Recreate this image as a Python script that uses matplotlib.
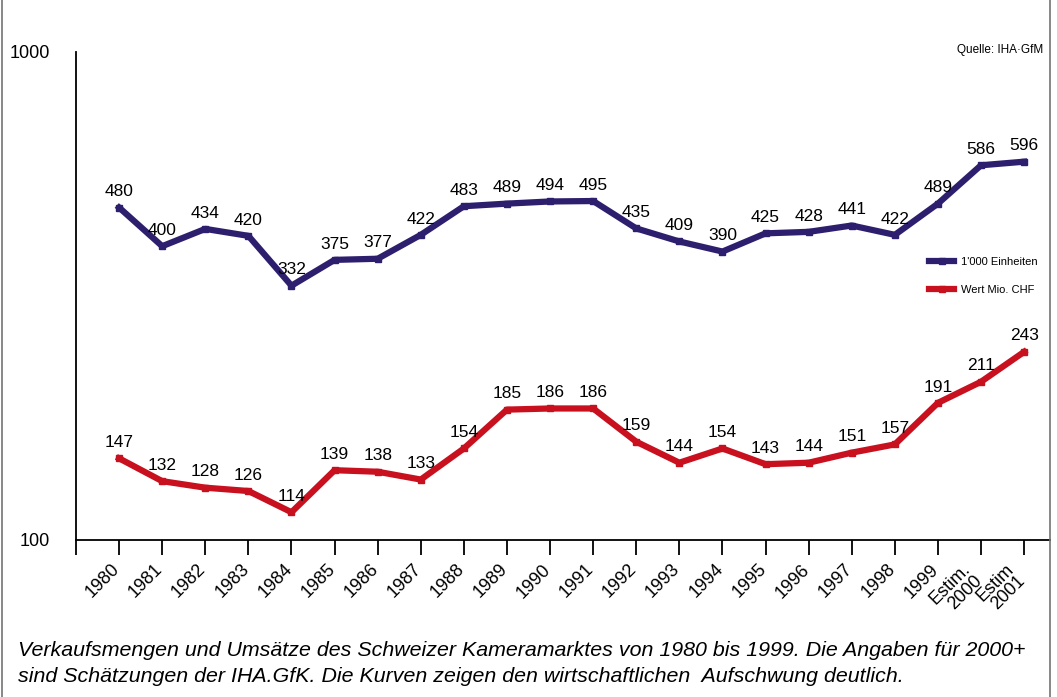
import numpy as np
import matplotlib
matplotlib.use("Agg")
import matplotlib.pyplot as plt
import matplotlib.transforms as mtransforms
from matplotlib.lines import Line2D

plt.rcParams['font.family'] = ['Liberation Sans', 'DejaVu Sans']

years = ["1980", "1981", "1982", "1983", "1984", "1985", "1986", "1987", "1988",
         "1989", "1990", "1991", "1992", "1993", "1994", "1995", "1996", "1997",
         "1998", "1999", "Estim.\n2000", "Estim\n2001"]
einheiten = [480, 400, 434, 420, 332, 375, 377, 422, 483, 489, 494, 495,
             435, 409, 390, 425, 428, 441, 422, 489, 586, 596]
wert = [147, 132, 128, 126, 114, 139, 138, 133, 154, 185, 186, 186,
        159, 144, 154, 143, 144, 151, 157, 191, 211, 243]

BLUE = "#2e1f6e"
RED = "#c8101e"

fig = plt.figure(figsize=(10.57, 6.97), dpi=100)
ax = fig.add_axes([76/1057, 1-540/697, (1050-76)/1057, (540-52)/697])

x = np.arange(len(years))
ax.plot(x, einheiten, color=BLUE, lw=4.5, marker="s", ms=4, solid_joinstyle="round",
        label="1'000 Einheiten")
ax.plot(x, wert, color=RED, lw=4.5, marker="s", ms=4, solid_joinstyle="round",
        label="Wert Mio. CHF")

for serie in (einheiten, wert):
    for xi, v in zip(x, serie):
        ax.annotate(str(v), (xi, v), xytext=(0, 6), textcoords="offset points",
                    ha="center", va="bottom", fontsize=12.5)

ax.set_yscale("log")
ax.set_ylim(100, 1000)
ax.set_xlim(-1, 21.6)
ax.set_yticks([100, 1000])
ax.set_yticklabels(["100", "1000"])
ax.yaxis.set_minor_locator(matplotlib.ticker.NullLocator())
ax.tick_params(axis="y", length=0, pad=19, labelsize=13)

ax.set_xticks(np.arange(-1, len(years)))
ax.set_xticklabels([""] + years, rotation=45, ha="right", fontsize=13,
                   linespacing=0.9)
ax.tick_params(axis="x", length=11, width=1.3, direction="out", pad=4)
shift = mtransforms.ScaledTranslation(4/100, 0, fig.dpi_scale_trans)
for lab in ax.get_xticklabels():
    lab.set_transform(lab.get_transform() + shift)

for s in ["top", "right"]:
    ax.spines[s].set_visible(False)
for s in ["left", "bottom"]:
    ax.spines[s].set_linewidth(1.3)

leg = ax.legend(loc="upper left", bbox_to_anchor=(0.866, 0.6), frameon=False,
                fontsize=8, handlelength=2.2, handletextpad=0.6, labelspacing=1.6)

ax.text(0.993, 1.005, "Quelle: IHA·GfM", transform=ax.transAxes, ha="right",
        va="center", fontsize=8.5)

fig.text(18/1057, 1-650/697, "Verkaufsmengen und Umsätze des Schweizer Kameramarktes "
         "von 1980 bis 1999. Die Angaben für 2000+", style="italic", fontsize=15.4,
         va="center", ha="left")
fig.text(18/1057, 1-676/697, "sind Schätzungen der IHA.GfK. Die Kurven zeigen den "
         "wirtschaftlichen  Aufschwung deutlich.", style="italic", fontsize=15.4,
         va="center", ha="left")

# rahmen links/rechts
for fx in [2/1057, 1050/1057]:
    fig.add_artist(Line2D([fx, fx], [0, 1], transform=fig.transFigure,
                          color="0.45", lw=1.2))

fig.savefig("out.png", dpi=100)
